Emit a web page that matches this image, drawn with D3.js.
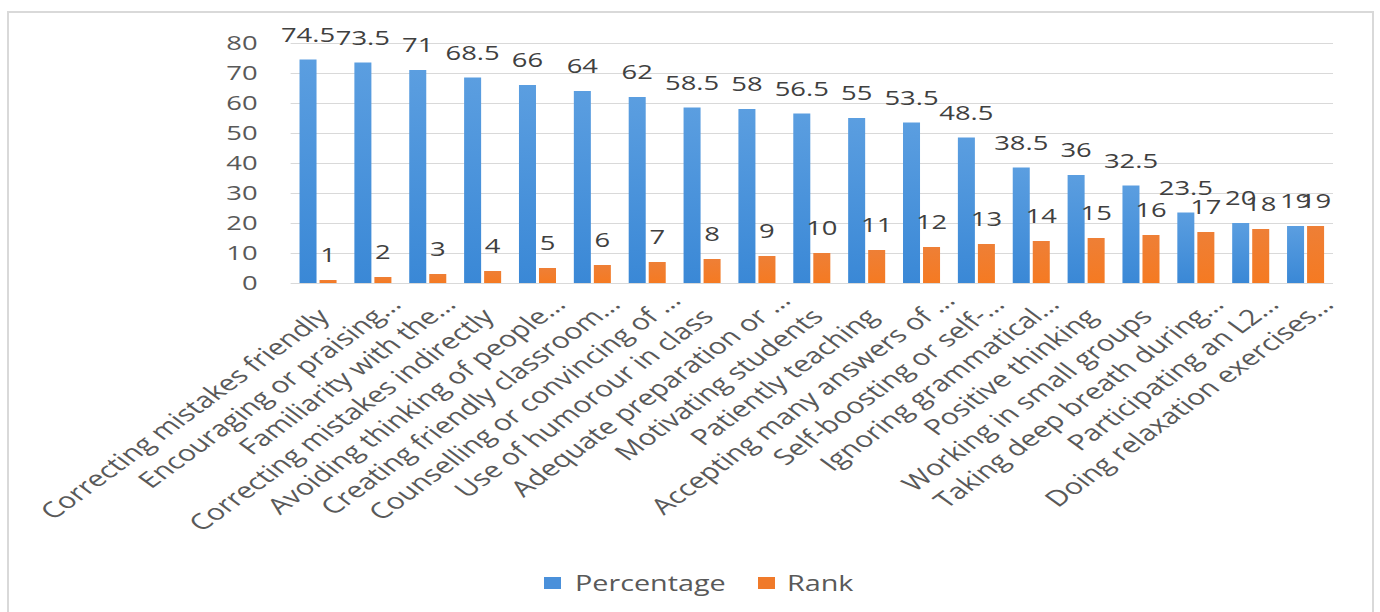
<!DOCTYPE html>
<html><head><meta charset="utf-8">
<script src="https://cdn.jsdelivr.net/npm/d3@7"></script>
<style>
body{margin:0;background:#fff}
svg{display:block}
text{font-family:"Open Sans",sans-serif;fill:#595959}
</style>
</head><body>
<svg id="c" width="1380" height="612"></svg>
<script>
const categories = [
  "Correcting mistakes friendly",
  "Encouraging or praising…",
  "Familiarity with the…",
  "Correcting mistakes indirectly",
  "Avoiding thinking of people…",
  "Creating friendly classroom…",
  "Counselling or convincing of …",
  "Use of humorour in class",
  "Adequate preparation or …",
  "Motivating students",
  "Patiently teaching",
  "Accepting many answers of …",
  "Self-boosting or self-…",
  "Ignoring grammatical…",
  "Positive thinking",
  "Working in small groups",
  "Taking deep breath during…",
  "Participating an L2…",
  "Doing relaxation exercises…"
];
const percentage = [74.5,73.5,71,68.5,66,64,62,58.5,58,56.5,55,53.5,48.5,38.5,36,32.5,23.5,20,19];
const rank = [1,2,3,4,5,6,7,8,9,10,11,12,13,14,15,16,17,18,19];
const seriesNames = ["Percentage","Rank"];
const seriesColors = ["#4a90da","#f07a2a"];
const yTicks = [0,10,20,30,40,50,60,70,80];

(function(){
const SX = 1.37; // horizontal stretch of the original picture
const svg = d3.select("#c");

const defs = svg.append("defs");
const g1 = defs.append("linearGradient").attr("id","gb").attr("x1",0).attr("x2",0).attr("y1",0).attr("y2",1);
g1.append("stop").attr("offset","0%").attr("stop-color","#5b9ee0");
g1.append("stop").attr("offset","100%").attr("stop-color","#3a88d6");
const g2 = defs.append("linearGradient").attr("id","go").attr("x1",0).attr("x2",0).attr("y1",0).attr("y2",1);
g2.append("stop").attr("offset","0%").attr("stop-color","#ee7f36");
g2.append("stop").attr("offset","100%").attr("stop-color","#f57a22");
const fills = ["url(#gb)","url(#go)"];

svg.append("rect").attr("x",8).attr("y",12).attr("width",1365).attr("height",660)
  .attr("fill","#fff").attr("stroke","#d9d9d9").attr("stroke-width",2);

const pl = 290.6, pr = 1333, pt = 43, pb = 283;
const y = d3.scaleLinear().domain([0,80]).range([pb, pt]);
const x0 = d3.scaleBand().domain(categories).range([pl,pr]).paddingInner(0.325).paddingOuter(0.1625);
const x1 = d3.scaleBand().domain(seriesNames).range([0,x0.bandwidth()]).paddingInner(0.15);

const yAxis = d3.axisLeft(y).tickValues(yTicks).tickSize(-(pr-pl)).tickPadding(33/SX);
const ga = svg.append("g").attr("transform",`translate(${pl},0)`).call(yAxis);
ga.select(".domain").remove();
ga.selectAll(".tick line").attr("stroke","#d9d9d9").attr("stroke-width",1.2);
ga.selectAll(".tick text").attr("font-size",20).attr("fill","#595959")
  .attr("font-family","'Open Sans',sans-serif")
  .attr("transform",`scale(${SX},1)`);

const data = categories.map((c,i)=>({c, vals:[percentage[i], rank[i]]}));
const groups = svg.append("g").selectAll("g").data(data).join("g")
  .attr("transform",d=>`translate(${x0(d.c)},0)`);
groups.selectAll("rect").data(d=>d.vals.map((v,k)=>({k,v}))).join("rect")
  .attr("x",d=>x1(seriesNames[d.k]))
  .attr("width",x1.bandwidth())
  .attr("y",d=>y(d.v))
  .attr("height",d=>y(0)-y(d.v))
  .attr("fill",d=>fills[d.k]);

groups.selectAll("text.lbl").data(d=>d.vals.map((v,k)=>({k,v}))).join("text")
  .attr("class","lbl")
  .attr("text-anchor","middle")
  .attr("font-size",20)
  .style("fill","#404040")
  .attr("transform",d=>`translate(${x1(seriesNames[d.k])+x1.bandwidth()/2},${y(d.v)-18}) scale(${SX},1)`)
  .text(d=>d.v);

const cl = svg.append("g").selectAll("g").data(categories).join("g")
  .attr("transform",c=>`translate(${x0(c)+x0.bandwidth()/2+13},318) scale(${SX},1) rotate(-45)`);
cl.append("text").attr("text-anchor","end").attr("font-size",22)
  .text(c=>{const m=c.match(/^(.*?)(\s?…)$/); return m?m[1]:c;});
cl.append("text").attr("text-anchor","start").attr("font-size",22).style("white-space","pre")
  .text(c=>{const m=c.match(/^(.*?)(\s?…)$/); return m?m[2]:"";});

const leg = svg.append("g");
const legX = [544, 758], legTX = [575, 787];
seriesNames.forEach((s,i)=>{
  leg.append("rect").attr("x",legX[i]).attr("y",577).attr("width",17).attr("height",12).attr("fill",seriesColors[i]);
  leg.append("text").attr("font-size",21)
    .attr("transform",`translate(${legTX[i]},591) scale(${SX},1)`).text(s);
});
})();
</script>
</body></html>
